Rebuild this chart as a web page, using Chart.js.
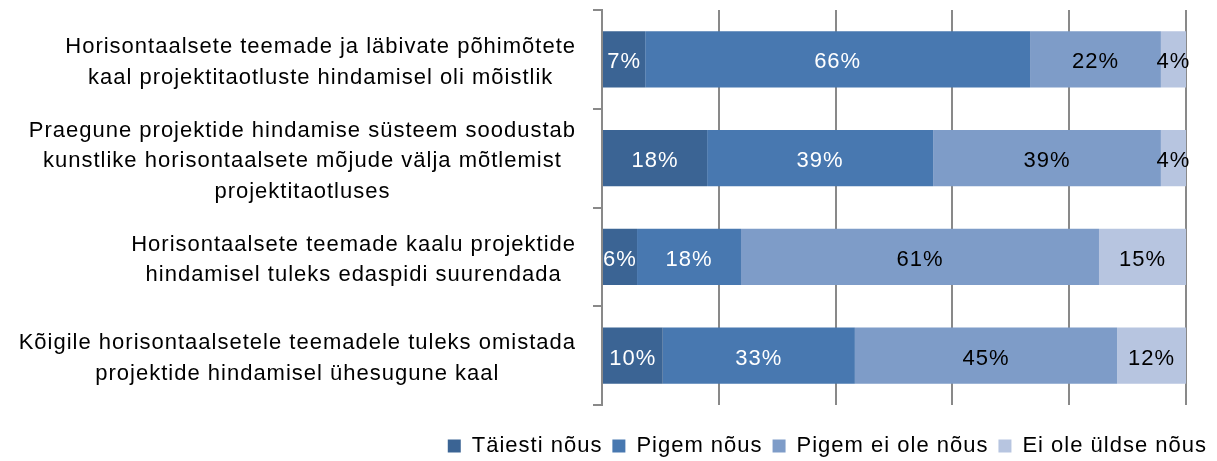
<!DOCTYPE html>
<html>
<head>
<meta charset="utf-8">
<script src="https://cdn.jsdelivr.net/npm/chart.js@4/dist/chart.umd.min.js"></script>
<style>
  html, body { margin: 0; padding: 0; background: #fff; }
  #wrap { width: 1217px; height: 461px; }
</style>
</head>
<body>
<div id="wrap"><canvas id="chart" width="1217" height="461"></canvas></div>
<script>
var categories = [
  ["Horisontaalsete teemade ja läbivate põhimõtete", "kaal projektitaotluste hindamisel oli mõistlik"],
  ["Praegune projektide hindamise süsteem soodustab", "kunstlike horisontaalsete mõjude välja mõtlemist", "projektitaotluses"],
  ["Horisontaalsete teemade kaalu projektide", "hindamisel tuleks edaspidi suurendada"],
  ["Kõigile horisontaalsetele teemadele tuleks omistada", "projektide hindamisel ühesugune kaal"]
];
var seriesNames = ["Täiesti nõus", "Pigem nõus", "Pigem ei ole nõus", "Ei ole üldse nõus"];
var taiestiNous = [7.4, 18.0, 6.0, 10.4];
var pigemNous = [65.9, 38.7, 17.8, 32.9];
var pigemEiOle = [22.4, 39.0, 61.3, 44.9];
var eiOleUldse = [4.3, 4.3, 14.9, 11.8];
var xTicks = [0, 20, 40, 60, 80, 100];

var colors = ["#3b6494", "#4878b0", "#7e9cc8", "#b7c5e0"];
var labelColors = ["#ffffff", "#ffffff", "#000000", "#000000"];
var FONT = "'Liberation Sans', Arial, sans-serif";
var SPACING = "1px";

// wider text, closer to the original look
var spacing = {
  id: "spacing",
  beforeUpdate: function(chart) { chart.ctx.letterSpacing = SPACING; },
  beforeDraw: function(chart) { chart.ctx.letterSpacing = SPACING; }
};

// labels inside bars
var barLabels = {
  id: "barLabels",
  afterDatasetsDraw: function(chart) {
    var ctx = chart.ctx;
    ctx.save();
    ctx.font = "22px " + FONT;
    ctx.textAlign = "center";
    ctx.textBaseline = "middle";
    chart.data.datasets.forEach(function(ds, i) {
      chart.getDatasetMeta(i).data.forEach(function(bar, j) {
        var mid = (bar.x + bar.base) / 2;
        ctx.fillStyle = labelColors[i];
        ctx.fillText(Math.round(ds.data[j]) + "%", mid, bar.y + 3);
      });
    });
    ctx.restore();
  }
};

// category labels: block right aligned, lines centered
var catLabels = {
  id: "catLabels",
  afterDraw: function(chart) {
    var ctx = chart.ctx;
    var y = chart.scales.y;
    var right = y.right - 26;
    ctx.save();
    ctx.font = "22px " + FONT;
    ctx.fillStyle = "#000";
    ctx.textAlign = "center";
    ctx.textBaseline = "middle";
    categories.forEach(function(lines, i) {
      var w = 0;
      lines.forEach(function(l) { w = Math.max(w, ctx.measureText(l).width); });
      var cx = right - w / 2;
      var cy = y.getPixelForValue(i) + 3;
      var lh = 30.5;
      lines.forEach(function(l, k) {
        ctx.fillText(l, cx, cy + (k - (lines.length - 1) / 2) * lh);
      });
    });
    ctx.restore();
  }
};

var data = {
  labels: categories,
  datasets: [taiestiNous, pigemNous, pigemEiOle, eiOleUldse].map(function(vals, i) {
    return {
      label: seriesNames[i],
      data: vals,
      backgroundColor: colors[i],
      borderWidth: 0,
      barPercentage: 0.57,
      categoryPercentage: 1
    };
  })
};

window.chart = new Chart(document.getElementById("chart").getContext("2d"), {
  type: "bar",
  data: data,
  plugins: [spacing, barLabels, catLabels],
  options: {
    indexAxis: "y",
    responsive: false,
    animation: false,
    layout: { padding: { top: 10, right: 0, left: 0, bottom: -6 } },
    scales: {
      x: {
        stacked: true,
        min: 0,
        max: 100,
        afterBuildTicks: function(scale) {
          scale.ticks = xTicks.map(function(v) { return { value: v }; });
        },
        afterFit: function(scale) { scale.height = 20; },
        ticks: { display: false },
        grid: { color: "#898989", lineWidth: 2, drawTicks: false },
        border: { display: false }
      },
      y: {
        stacked: true,
        afterFit: function(scale) { scale.width = 602; },
        ticks: { display: false },
        grid: { drawOnChartArea: false, color: "#898989", lineWidth: 2, tickLength: 9, offset: true },
        border: { color: "#898989", width: 2 }
      },
      yRight: {
        type: "category",
        position: "right",
        afterFit: function(scale) { scale.width = 31; },
        ticks: { display: false },
        grid: { display: false },
        border: { display: false }
      }
    },
    plugins: {
      legend: {
        position: "bottom",
        align: "end",
        labels: {
          boxWidth: 13,
          boxHeight: 13,
          padding: 10,
          color: "#000",
          font: { size: 22, family: FONT }
        }
      },
      tooltip: { enabled: false }
    }
  }
});
</script>
</body>
</html>
